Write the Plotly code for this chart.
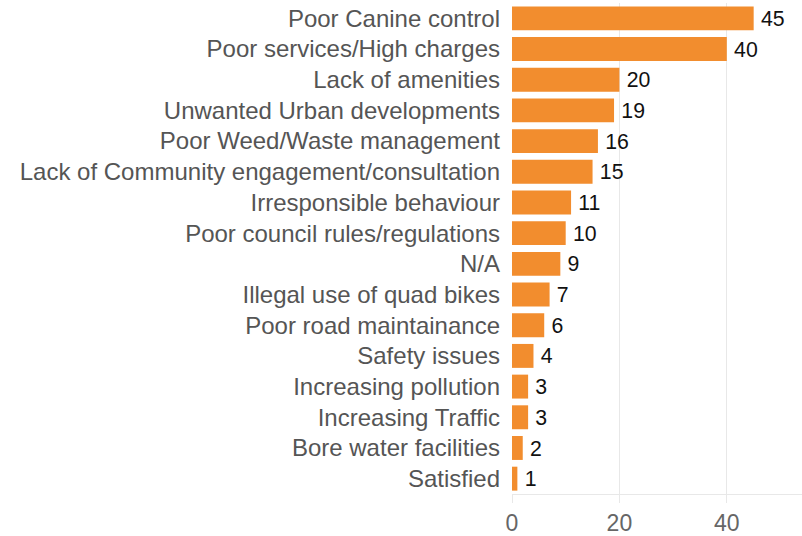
import plotly.graph_objects as go

categories = [
    "Poor Canine control",
    "Poor services/High charges",
    "Lack of amenities",
    "Unwanted Urban developments",
    "Poor Weed/Waste management",
    "Lack of Community engagement/consultation",
    "Irresponsible behaviour",
    "Poor council rules/regulations",
    "N/A",
    "Illegal use of quad bikes",
    "Poor road maintainance",
    "Safety issues",
    "Increasing pollution",
    "Increasing Traffic",
    "Bore water facilities",
    "Satisfied",
]
counts = [45, 40, 20, 19, 16, 15, 11, 10, 9, 7, 6, 4, 3, 3, 2, 1]
tick_values = [0, 20, 40]

FONT = "Helvetica Neue, Helvetica, Arial, Liberation Sans, sans-serif"

fig = go.Figure(
    go.Bar(
        x=counts,
        y=categories,
        orientation="h",
        marker=dict(color="#F28D2E", line=dict(width=0)),
        text=["\u2009" + str(v) for v in counts],
        textposition="outside",
        textfont=dict(family=FONT, size=24, color="#111111"),
        cliponaxis=False,
    )
)

fig.update_layout(
    width=802,
    height=536,
    margin=dict(l=512, r=0, t=3, b=40),
    paper_bgcolor="white",
    plot_bgcolor="white",
    bargap=0.22,
    showlegend=False,
    font=dict(family=FONT, size=24, color="#555555"),
)

fig.update_yaxes(
    autorange="reversed",
    showgrid=False,
    ticks="",
    ticklabelstandoff=11,
    tickfont=dict(family=FONT, size=24, color="#555555"),
)

fig.update_xaxes(
    range=[0, 54],
    tickvals=tick_values,
    showgrid=True,
    gridcolor="#e8e8e8",
    gridwidth=1,
    zeroline=False,
    showline=True,
    linecolor="#e8e8e8",
    ticks="outside",
    ticklen=8,
    tickcolor="#e8e8e8",
    tickfont=dict(family=FONT, size=23, color="#666666"),
)

fig.write_html("out.html")
